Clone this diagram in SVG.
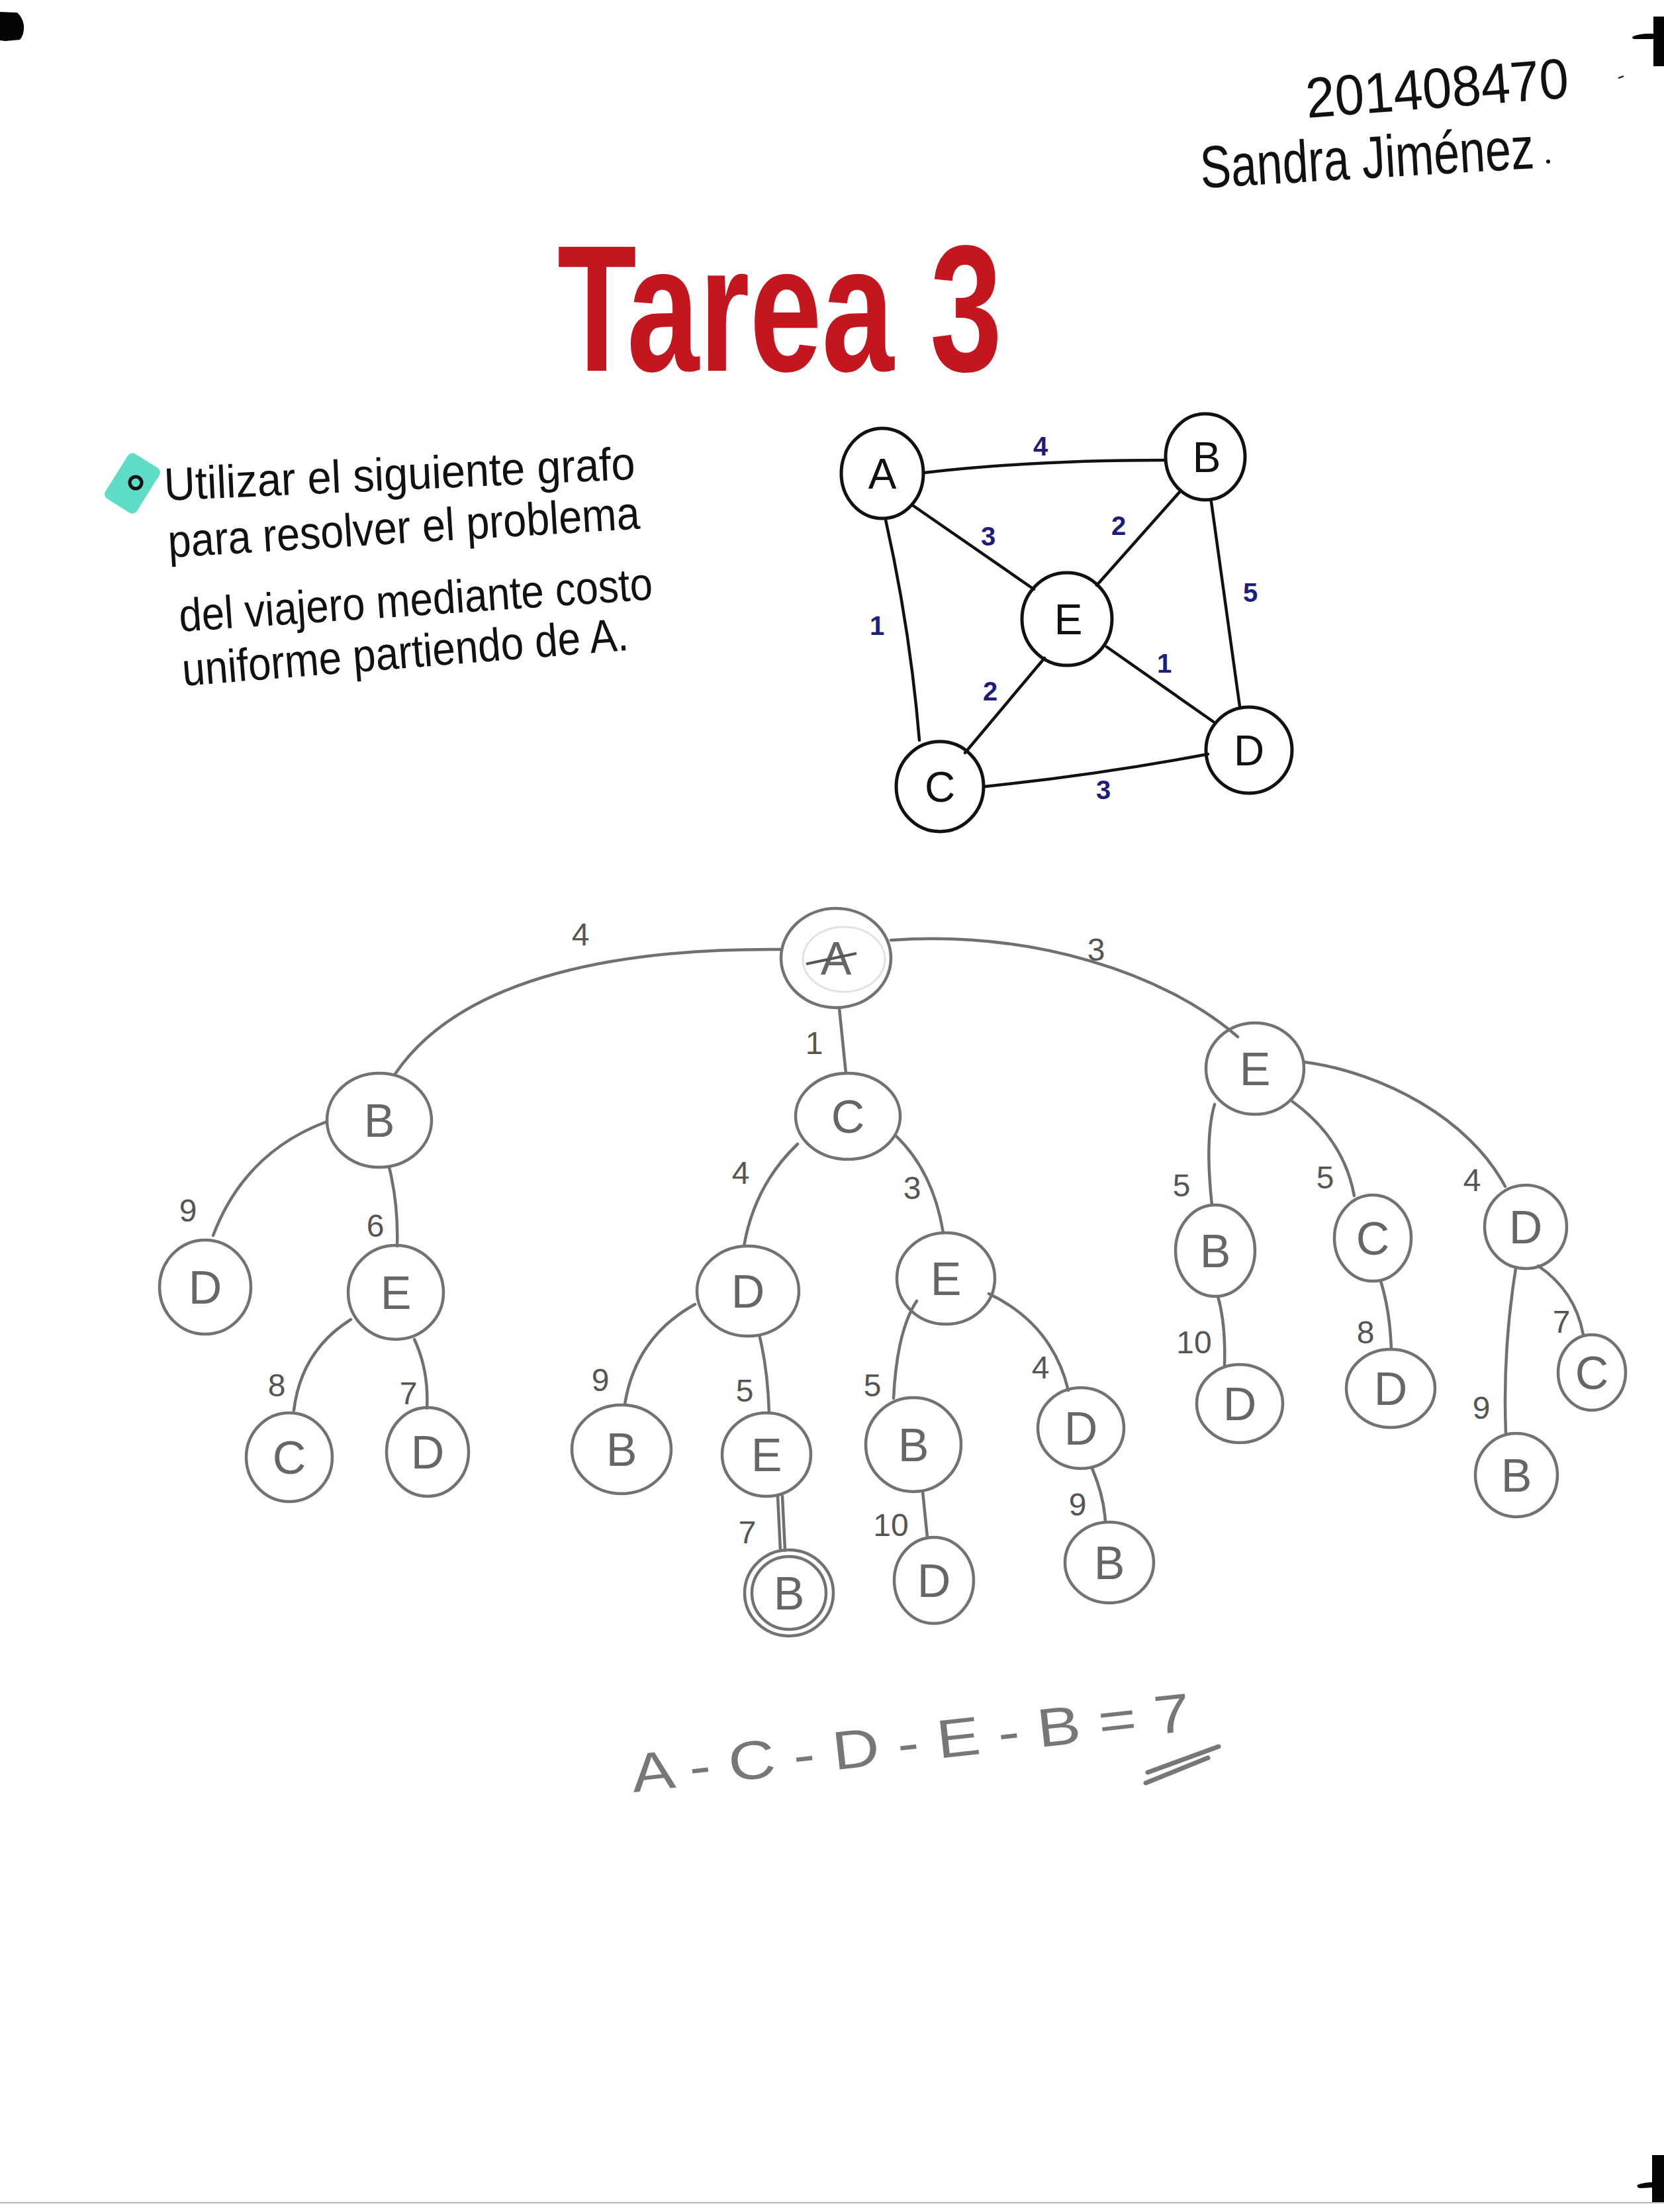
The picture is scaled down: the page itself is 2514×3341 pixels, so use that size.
<svg xmlns="http://www.w3.org/2000/svg" width="2514" height="3341" viewBox="0 0 2514 3341">
  <style>
    .ink { font-family: "Liberation Sans", "DejaVu Sans", sans-serif; fill: #111; }
    .gnode ellipse { fill: none; stroke: #111; stroke-width: 5; }
    .gnode text { font-family: "Liberation Sans", sans-serif; font-size: 64px; fill: #111; text-anchor: middle; }
    .gedge path { fill: none; stroke: #111; stroke-width: 4.5; stroke-linecap: round; }
    .gw { font-family: "Liberation Sans", sans-serif; font-size: 40px; font-weight: bold; fill: #1e1e7a; text-anchor: middle; }
    .tnode ellipse { fill: none; stroke: #727272; stroke-width: 4.5; }
    .tnode text { font-family: "Liberation Sans", sans-serif; font-size: 70px; fill: #666; text-anchor: middle; }
    .tedge path { fill: none; stroke: #707070; stroke-width: 4.5; stroke-linecap: round; }
    .tw { font-family: "Liberation Sans", sans-serif; font-size: 48px; fill: #555; text-anchor: middle; }
  </style>

  <rect width="2514" height="3341" fill="#ffffff"/>

  <!-- page corner marks -->
  <g id="corner-marks" fill="#050505">
    <path d="M0,18 L26,19 Q34,26 36,38 Q37,52 30,60 L8,62 L0,61 Z"/>
    <rect x="2498" y="25" width="16" height="75"/>
    <path d="M2467,55 Q2480,50 2498,51 L2498,59 L2470,59 Q2464,58 2467,55 Z"/>
    <rect x="2496" y="3255" width="18" height="72"/>
    <path d="M2474,3300 Q2485,3296 2497,3296 L2497,3304 L2478,3305 Q2472,3304 2474,3300 Z"/>
    <path d="M2445,118 L2453,115" stroke="#111" stroke-width="2" fill="none"/>
  </g>
  <line x1="0" y1="3327" x2="2514" y2="3327" stroke="#b5b5b5" stroke-width="2"/>

  <!-- header -->
  <g id="header">
    <text class="ink" x="1975" y="178" font-size="86" textLength="398" lengthAdjust="spacingAndGlyphs" transform="rotate(-4.4 1975 178)">201408470</text>
    <text class="ink" x="1815" y="284" font-size="90" textLength="505" lengthAdjust="spacingAndGlyphs" transform="rotate(-3.4 1815 284)">Sandra Jiménez</text>
    <circle cx="2339" cy="244" r="3" fill="#111"/>
  </g>

  <!-- title -->
  <g id="title">
    <text x="842" y="560" font-family="Liberation Sans, sans-serif" font-weight="bold" font-size="272" fill="#c4161f" textLength="672" lengthAdjust="spacingAndGlyphs">Tarea 3</text>
  </g>

  <!-- instruction -->
  <g id="instruction">
    <rect x="172" y="690" width="56" height="80" rx="8" fill="#5fdcc6" transform="rotate(32 200 730)"/>
    <circle cx="205" cy="729" r="9" fill="none" stroke="#111" stroke-width="5"/>
    <text class="ink" x="249" y="756" font-size="70" textLength="712" lengthAdjust="spacingAndGlyphs" transform="rotate(-2.6 249 756)">Utilizar el siguiente grafo</text>
    <text class="ink" x="255" y="842" font-size="70" textLength="714" lengthAdjust="spacingAndGlyphs" transform="rotate(-3.5 255 842)">para resolver el problema</text>
    <text class="ink" x="272" y="954" font-size="70" textLength="717" lengthAdjust="spacingAndGlyphs" transform="rotate(-3.9 272 954)">del viajero mediante costo</text>
    <text class="ink" x="277" y="1036" font-size="70" textLength="676" lengthAdjust="spacingAndGlyphs" transform="rotate(-4.6 277 1036)">uniforme partiendo de A.</text>
  </g>

  <!-- weighted graph: connectors -->
  <g id="graph-edges" class="gedge">
    <path d="M1396,714 Q1560,695 1761,695"/>
    <path d="M1380,764 L1562,890"/>
    <path d="M1784,741 L1657,884"/>
    <path d="M1338,785 Q1375,950 1389,1118"/>
    <path d="M1830,758 L1873,1067"/>
    <path d="M1672,977 L1833,1090"/>
    <path d="M1578,994 L1458,1137"/>
    <path d="M1488,1188 Q1660,1170 1825,1139"/>
  </g>
  <g id="graph-weights">
    <text class="gw" x="1572" y="688">4</text>
    <text class="gw" x="1493" y="824">3</text>
    <text class="gw" x="1690" y="808">2</text>
    <text class="gw" x="1325" y="959">1</text>
    <text class="gw" x="1889" y="909">5</text>
    <text class="gw" x="1759" y="1016">1</text>
    <text class="gw" x="1496" y="1058">2</text>
    <text class="gw" x="1667" y="1207">3</text>
  </g>
  <g id="g-A" class="gnode"><ellipse cx="1333" cy="715" rx="62" ry="68"/><text x="1333" y="738">A</text></g>
  <g id="g-B" class="gnode"><ellipse cx="1821" cy="690" rx="60" ry="65"/><text x="1823" y="713">B</text></g>
  <g id="g-E" class="gnode"><ellipse cx="1612" cy="935" rx="68" ry="70"/><text x="1614" y="958">E</text></g>
  <g id="g-C" class="gnode"><ellipse cx="1420" cy="1188" rx="66" ry="68"/><text x="1420" y="1211">C</text></g>
  <g id="g-D" class="gnode"><ellipse cx="1887" cy="1133" rx="65" ry="65"/><text x="1887" y="1156">D</text></g>

  <!-- search tree: connectors -->
  <g id="tree-edges" class="tedge">
    <path d="M1180,1434 C950,1432 700,1470 597,1622"/>
    <path d="M1268,1523 L1278,1621"/>
    <path d="M1346,1420 C1560,1405 1760,1470 1870,1566"/>
    <path d="M494,1694 Q370,1740 322,1866"/>
    <path d="M588,1763 Q602,1820 600,1882"/>
    <path d="M530,1993 Q455,2040 444,2130"/>
    <path d="M626,2023 Q648,2070 645,2127"/>
    <path d="M1205,1728 Q1140,1790 1124,1882"/>
    <path d="M1354,1716 Q1410,1770 1425,1862"/>
    <path d="M1050,1970 Q960,2020 944,2121"/>
    <path d="M1148,2020 Q1160,2070 1162,2134"/>
    <path d="M1175,2260 L1179,2342"/>
    <path d="M1182,2260 L1186,2342"/>
    <path d="M1385,1965 Q1355,2010 1350,2112"/>
    <path d="M1494,1954 Q1590,2000 1614,2100"/>
    <path d="M1394,2253 L1401,2322"/>
    <path d="M1650,2218 Q1668,2260 1670,2299"/>
    <path d="M1835,1668 Q1820,1720 1831,1820"/>
    <path d="M1953,1664 Q2030,1720 2046,1806"/>
    <path d="M1970,1604 C2090,1620 2220,1690 2274,1792"/>
    <path d="M1840,1958 Q1852,2000 1850,2062"/>
    <path d="M2086,1935 Q2100,1980 2102,2038"/>
    <path d="M2324,1912 Q2380,1950 2392,2016"/>
    <path d="M2290,1916 Q2270,2040 2275,2165"/>
  </g>
  <g id="tree-costs">
    <text class="tw" x="877" y="1428">4</text>
    <text class="tw" x="1230" y="1592">1</text>
    <text class="tw" x="1656" y="1451">3</text>
    <text class="tw" x="284" y="1845">9</text>
    <text class="tw" x="567" y="1868">6</text>
    <text class="tw" x="418" y="2109">8</text>
    <text class="tw" x="617" y="2121">7</text>
    <text class="tw" x="1119" y="1788">4</text>
    <text class="tw" x="1378" y="1811">3</text>
    <text class="tw" x="907" y="2101">9</text>
    <text class="tw" x="1125" y="2117">5</text>
    <text class="tw" x="1129" y="2331">7</text>
    <text class="tw" x="1318" y="2109">5</text>
    <text class="tw" x="1572" y="2082">4</text>
    <text class="tw" x="1346" y="2320">10</text>
    <text class="tw" x="1628" y="2289">9</text>
    <text class="tw" x="1785" y="1807">5</text>
    <text class="tw" x="2002" y="1795">5</text>
    <text class="tw" x="2224" y="1799">4</text>
    <text class="tw" x="1804" y="2044">10</text>
    <text class="tw" x="2063" y="2029">8</text>
    <text class="tw" x="2359" y="2013">7</text>
    <text class="tw" x="2238" y="2143">9</text>
  </g>

  <!-- search tree: nodes -->
  <g id="t-A" class="tnode">
    <ellipse cx="1263" cy="1447" rx="83" ry="75"/>
    <ellipse cx="1275" cy="1449" rx="62" ry="49" style="stroke:#e2e2e2;stroke-width:3"/>
    <text x="1263" y="1472">A</text>
    <path d="M1218,1456 L1294,1440" stroke="#555" stroke-width="4" fill="none"/>
  </g>
  <g id="t-B" class="tnode"><ellipse cx="573" cy="1692" rx="79" ry="71"/><text x="573" y="1717">B</text></g>
  <g id="t-BD" class="tnode"><ellipse cx="310" cy="1944" rx="69" ry="71"/><text x="310" y="1969">D</text></g>
  <g id="t-BE" class="tnode"><ellipse cx="598" cy="1952" rx="72" ry="71"/><text x="598" y="1977">E</text></g>
  <g id="t-BEC" class="tnode"><ellipse cx="437" cy="2201" rx="65" ry="67"/><text x="437" y="2226">C</text></g>
  <g id="t-BED" class="tnode"><ellipse cx="646" cy="2193" rx="62" ry="67"/><text x="646" y="2218">D</text></g>
  <g id="t-C" class="tnode"><ellipse cx="1281" cy="1686" rx="79" ry="65"/><text x="1281" y="1711">C</text></g>
  <g id="t-CD" class="tnode"><ellipse cx="1130" cy="1950" rx="77" ry="68"/><text x="1130" y="1975">D</text></g>
  <g id="t-CE" class="tnode"><ellipse cx="1429" cy="1931" rx="74" ry="69"/><text x="1429" y="1956">E</text></g>
  <g id="t-CDB" class="tnode"><ellipse cx="939" cy="2189" rx="75" ry="67"/><text x="939" y="2214">B</text></g>
  <g id="t-CDE" class="tnode"><ellipse cx="1158" cy="2197" rx="67" ry="63"/><text x="1158" y="2222">E</text></g>
  <g id="t-CDEB" class="tnode">
    <ellipse cx="1192" cy="2406" rx="67" ry="65"/>
    <ellipse cx="1192" cy="2406" rx="56" ry="55"/>
    <text x="1192" y="2431">B</text>
  </g>
  <g id="t-CEB" class="tnode"><ellipse cx="1380" cy="2182" rx="72" ry="71"/><text x="1380" y="2207">B</text></g>
  <g id="t-CED" class="tnode"><ellipse cx="1633" cy="2157" rx="65" ry="61"/><text x="1633" y="2182">D</text></g>
  <g id="t-CEBD" class="tnode"><ellipse cx="1411" cy="2387" rx="60" ry="65"/><text x="1411" y="2412">D</text></g>
  <g id="t-CEDB" class="tnode"><ellipse cx="1676" cy="2360" rx="67" ry="61"/><text x="1676" y="2385">B</text></g>
  <g id="t-E" class="tnode"><ellipse cx="1896" cy="1614" rx="74" ry="69"/><text x="1896" y="1639">E</text></g>
  <g id="t-EB" class="tnode"><ellipse cx="1836" cy="1889" rx="60" ry="69"/><text x="1836" y="1914">B</text></g>
  <g id="t-EC" class="tnode"><ellipse cx="2074" cy="1870" rx="58" ry="65"/><text x="2074" y="1895">C</text></g>
  <g id="t-ED" class="tnode"><ellipse cx="2305" cy="1853" rx="62" ry="63"/><text x="2305" y="1878">D</text></g>
  <g id="t-EBD" class="tnode"><ellipse cx="1873" cy="2120" rx="65" ry="59"/><text x="1873" y="2145">D</text></g>
  <g id="t-ECD" class="tnode"><ellipse cx="2101" cy="2097" rx="67" ry="59"/><text x="2101" y="2122">D</text></g>
  <g id="t-EDC" class="tnode"><ellipse cx="2405" cy="2073" rx="51" ry="57"/><text x="2405" y="2098">C</text></g>
  <g id="t-EDB" class="tnode"><ellipse cx="2291" cy="2228" rx="62" ry="63"/><text x="2291" y="2253">B</text></g>

  <!-- result -->
  <g id="result">
    <text x="957" y="2707" font-family="Liberation Sans, sans-serif" font-size="82" fill="#777" textLength="849" lengthAdjust="spacingAndGlyphs" transform="rotate(-6.3 957 2707)">A - C - D - E - B = 7</text>
    <path d="M1734,2677 L1841,2638 M1731,2693 L1825,2655" stroke="#777" stroke-width="7" stroke-linecap="round" fill="none"/>
  </g>
</svg>
